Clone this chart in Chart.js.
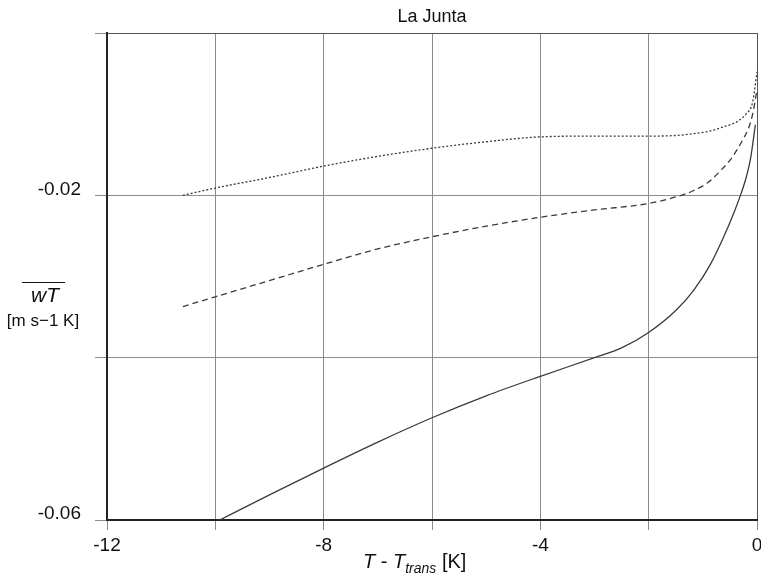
<!DOCTYPE html>
<html>
<head>
<meta charset="utf-8">
<script src="https://cdn.jsdelivr.net/npm/chart.js@4"></script>
<style>
  html, body { margin: 0; padding: 0; background: #fff; }
  #wrap { width: 761px; height: 582px; }
</style>
</head>
<body>
<div id="wrap"><canvas id="chart"></canvas></div>
<script>
// values
const solidX  = [-9.92, -9, -8, -7, -6, -5, -4, -3, -2.5, -2, -1.5, -1.17, -0.86, -0.62, -0.43, -0.29, -0.2, -0.12, -0.03];
const solidY  = [-0.06, -0.0569, -0.0536, -0.0504, -0.0474, -0.0447, -0.0423, -0.04, -0.0388, -0.0369, -0.0342, -0.0317, -0.0285, -0.0252, -0.0222, -0.0197, -0.0178, -0.0155, -0.0113];

const dashX   = [-10.6, -10, -9, -8, -7, -6, -5, -4, -3, -2, -1.5, -1.2, -0.9, -0.68, -0.49, -0.37, -0.25, -0.16, -0.08, 0];
const dashY   = [-0.0337, -0.0325, -0.0305, -0.0285, -0.0266, -0.0251, -0.0238, -0.0227, -0.0218, -0.021, -0.0202, -0.0195, -0.0184, -0.017, -0.0156, -0.0144, -0.013, -0.0118, -0.01, -0.007];

const dotX    = [-10.6, -10, -9, -8, -7, -6, -5, -4, -3, -2, -1.29, -0.68, -0.19, -0.08, 0];
const dotY    = [-0.02, -0.0191, -0.0178, -0.0164, -0.0152, -0.0142, -0.0134, -0.0128, -0.0127, -0.0127, -0.0125, -0.0117, -0.0099, -0.0085, -0.0048];

const xLabels = [-12, -8, -4, 0];
const yLabels = [-0.02, -0.06];

const FONT = "'Liberation Sans', Arial, sans-serif";
const toPts = (xs, ys) => xs.map((x, i) => ({ x: x, y: ys[i] }));

// titles and axis captions
const textPlugin = {
    id: 'texts',
    afterDraw(chart) {
        const c = chart.ctx;
        const area = chart.chartArea;
        c.save();
        c.fillStyle = '#111';
        c.textBaseline = 'alphabetic';

        // title
        c.font = '18px ' + FONT;
        c.textAlign = 'center';
        c.fillText('La Junta', (area.left + area.right) / 2, 22);

        // y caption: overline wT
        c.font = 'italic 21px ' + FONT;
        c.fillText('wT', 45, 302);
        c.strokeStyle = '#111';
        c.lineWidth = 1;
        c.beginPath();
        c.moveTo(22, 282.5);
        c.lineTo(65, 282.5);
        c.stroke();
        c.font = '17px ' + FONT;
        c.fillText('[m s\u22121 K]', 43, 326);

        // x caption: T - T_trans [K]
        c.textAlign = 'left';
        let x = 363;
        const base = 568;
        c.font = 'italic 20px ' + FONT;
        c.fillText('T', x, base); x += c.measureText('T').width;
        c.font = '20px ' + FONT;
        c.fillText(' - ', x, base); x += c.measureText(' - ').width;
        c.font = 'italic 20px ' + FONT;
        c.fillText('T', x, base); x += c.measureText('T').width;
        c.font = 'italic 14px ' + FONT;
        c.fillText('trans', x, base + 5); x += c.measureText('trans').width;
        c.font = '20px ' + FONT;
        c.fillText(' [K]', x, base);
        c.restore();
    }
};

const line = (pts, dash) => ({
    data: pts,
    showLine: true,
    borderColor: '#3a3a3a',
    borderWidth: 1.3,
    borderDash: dash,
    pointRadius: 0,
    cubicInterpolationMode: 'monotone',
    fill: false
});

new Chart(document.getElementById('chart'), {
    type: 'scatter',
    data: {
        datasets: [
            line(toPts(solidX, solidY), []),
            line(toPts(dashX, dashY), [6, 4]),
            line(toPts(dotX, dotY), [2, 2])
        ]
    },
    options: {
        responsive: true,
        maintainAspectRatio: false,
        animation: false,
        layout: { padding: { top: 33, right: 4, left: 0, bottom: 0 } },
        plugins: {
            legend: { display: false },
            tooltip: { enabled: false },
            title: { display: false }
        },
        scales: {
            x: {
                type: 'linear',
                min: -12,
                max: 0,
                afterBuildTicks: (s) => { s.ticks = [-12, -10, -8, -6, -4, -2, 0].map(v => ({ value: v })); },
                afterFit: (s) => { s.height = 62; s.paddingLeft = 0; s.paddingRight = 0; },
                grid: {
                    color: (ctx) => ctx.tick && ctx.tick.value === 0 ? '#555' : '#8c8c8c',
                    lineWidth: 1,
                    tickLength: 10,
                    tickColor: '#8c8c8c'
                },
                border: { color: '#222', width: 2 },
                ticks: {
                    color: '#111',
                    padding: 4,
                    maxRotation: 0,
                    font: { family: FONT, size: 19 },
                    callback: (v) => xLabels.includes(v) ? String(v) : ''
                }
            },
            y: {
                type: 'linear',
                min: -0.06,
                max: 0,
                afterBuildTicks: (s) => { s.ticks = [-0.06, -0.04, -0.02, 0].map(v => ({ value: v })); },
                afterFit: (s) => { s.width = 107; s.paddingTop = 0; s.paddingBottom = 0; },
                grid: {
                    color: (ctx) => ctx.tick && ctx.tick.value === 0 ? '#555' : '#8c8c8c',
                    lineWidth: 1,
                    tickLength: 12,
                    tickColor: '#8c8c8c'
                },
                border: { color: '#222', width: 2 },
                ticks: {
                    color: '#111',
                    padding: 14,
                    labelOffset: -6,
                    font: { family: FONT, size: 19 },
                    callback: (v) => yLabels.some(l => Math.abs(l - v) < 1e-9) ? v.toFixed(2) : ''
                }
            }
        }
    },
    plugins: [textPlugin]
});
</script>
</body>
</html>
